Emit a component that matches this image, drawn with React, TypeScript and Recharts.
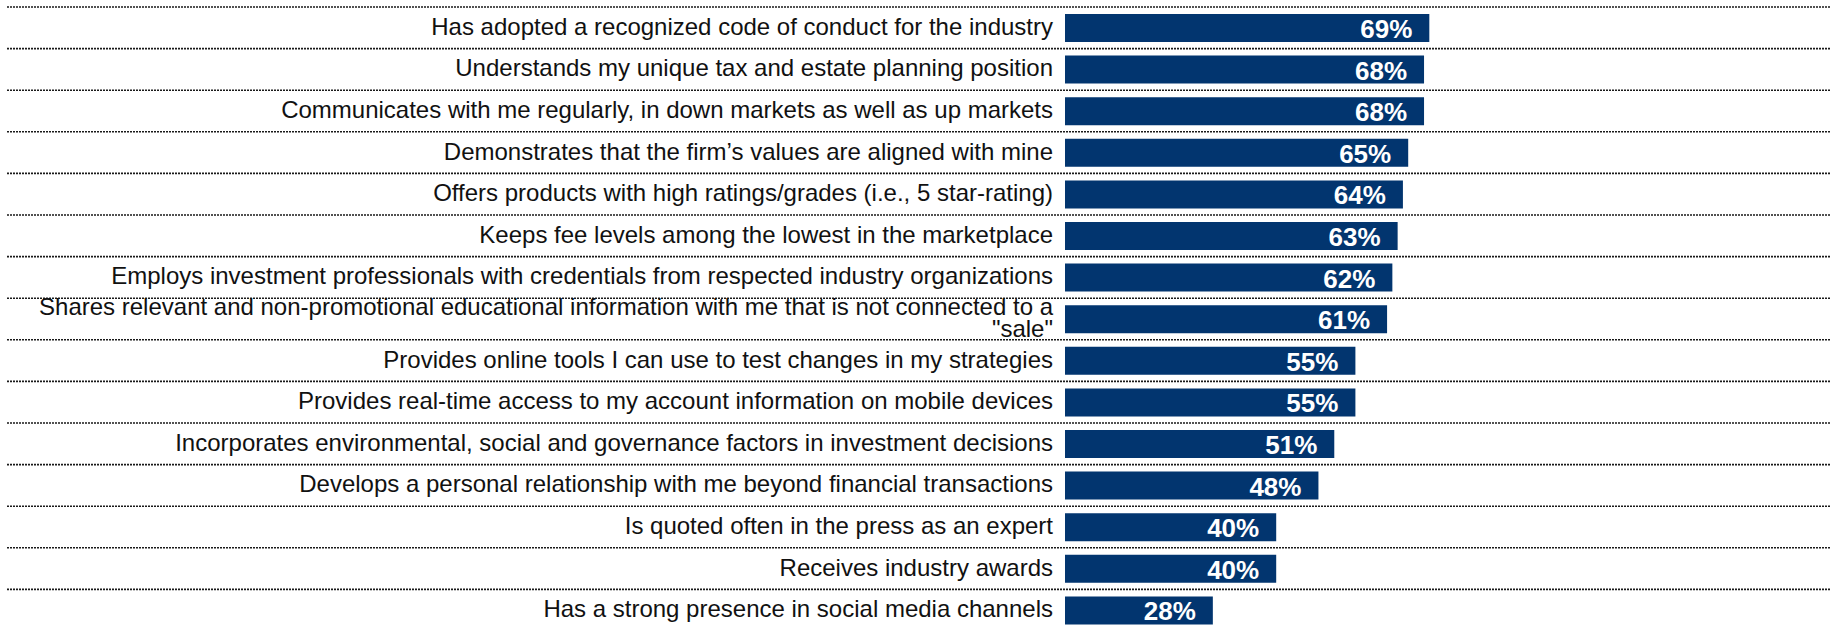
import { BarChart, Bar, XAxis, YAxis, LabelList } from "recharts";

const categories = [
  "Has adopted a recognized code of conduct for the industry",
  "Understands my unique tax and estate planning position",
  "Communicates with me regularly, in down markets as well as up markets",
  "Demonstrates that the firm\u2019s values are aligned with mine",
  "Offers products with high ratings/grades (i.e., 5 star-rating)",
  "Keeps fee levels among the lowest in the marketplace",
  "Employs investment professionals with credentials from respected industry organizations",
  "Shares relevant and non-promotional educational information with me that is not connected to a \"sale\"",
  "Provides online tools I can use to test changes in my strategies",
  "Provides real-time access to my account information on mobile devices",
  "Incorporates environmental, social and governance factors in investment decisions",
  "Develops a personal relationship with me beyond financial transactions",
  "Is quoted often in the press as an expert",
  "Receives industry awards",
  "Has a strong presence in social media channels",
];

const values = [69, 68, 68, 65, 64, 63, 62, 61, 55, 55, 51, 48, 40, 40, 28];

const data = categories.map((name, i) => ({ name, value: values[i] }));

const W = 1839;
const H = 631;
const TOP = 7;
const BAND = (H - TOP) / categories.length;
const FONT = "'Liberation Sans', Arial, sans-serif";
const LABEL_SIZE = 24;
const BAR_COLOR = "#02356f";

// greedy word wrap using canvas text metrics
let ctx: CanvasRenderingContext2D | null = null;
function wrap(text: string, maxWidth: number): string[] {
  if (!ctx) {
    ctx = document.createElement("canvas").getContext("2d");
    if (ctx) ctx.font = `${LABEL_SIZE}px ${FONT}`;
  }
  if (!ctx) return [text];
  const words = text.split(" ");
  const lines: string[] = [];
  let cur = "";
  for (const w of words) {
    const next = cur ? cur + " " + w : w;
    if (cur && ctx.measureText(next).width > maxWidth) {
      lines.push(cur);
      cur = w;
    } else {
      cur = next;
    }
  }
  if (cur) lines.push(cur);
  return lines;
}

function CategoryTick(props: any) {
  const { x, y, payload } = props;
  const lines = wrap(payload.value, 1035);
  const lh = 21.5;
  const first = y + 7 - ((lines.length - 1) * lh) / 2;
  const tx = x - 4;
  return (
    <g>
      <line
        x1={7}
        x2={1830}
        y1={y - BAND / 2}
        y2={y - BAND / 2}
        stroke="#1a1a1a"
        strokeWidth={1.6}
        strokeDasharray="2 1"
      />
      <text
        x={tx}
        y={first}
        textAnchor="end"
        fontFamily={FONT}
        fontSize={LABEL_SIZE}
        fill="#111"
      >
        {lines.map((l, i) => (
          <tspan key={i} x={tx} y={first + i * lh}>
            {l}
          </tspan>
        ))}
      </text>
    </g>
  );
}

function ValueLabel(props: any) {
  const { x, y, width, height, value } = props;
  return (
    <text
      x={x + width - 17}
      y={y + height / 2 + 10}
      textAnchor="end"
      fontFamily={FONT}
      fontWeight="bold"
      fontSize={26}
      fill="#fff"
    >
      {value}%
    </text>
  );
}

export default function App() {
  return (
    <div style={{ position: "absolute", left: 0, top: 0, width: W, height: H, background: "#fff" }}>
      <BarChart
        width={W}
        height={H}
        data={data}
        layout="vertical"
        margin={{ top: TOP, right: 246, bottom: 0, left: 0 }}
        barCategoryGap={0}
      >
        <XAxis type="number" domain={[0, 100]} hide />
        <YAxis
          type="category"
          dataKey="name"
          width={1065}
          axisLine={false}
          tickLine={false}
          interval={0}
          tick={<CategoryTick />}
        />
        <Bar dataKey="value" fill={BAR_COLOR} barSize={28} isAnimationActive={false}>
          <LabelList dataKey="value" content={<ValueLabel />} />
        </Bar>
      </BarChart>
    </div>
  );
}
